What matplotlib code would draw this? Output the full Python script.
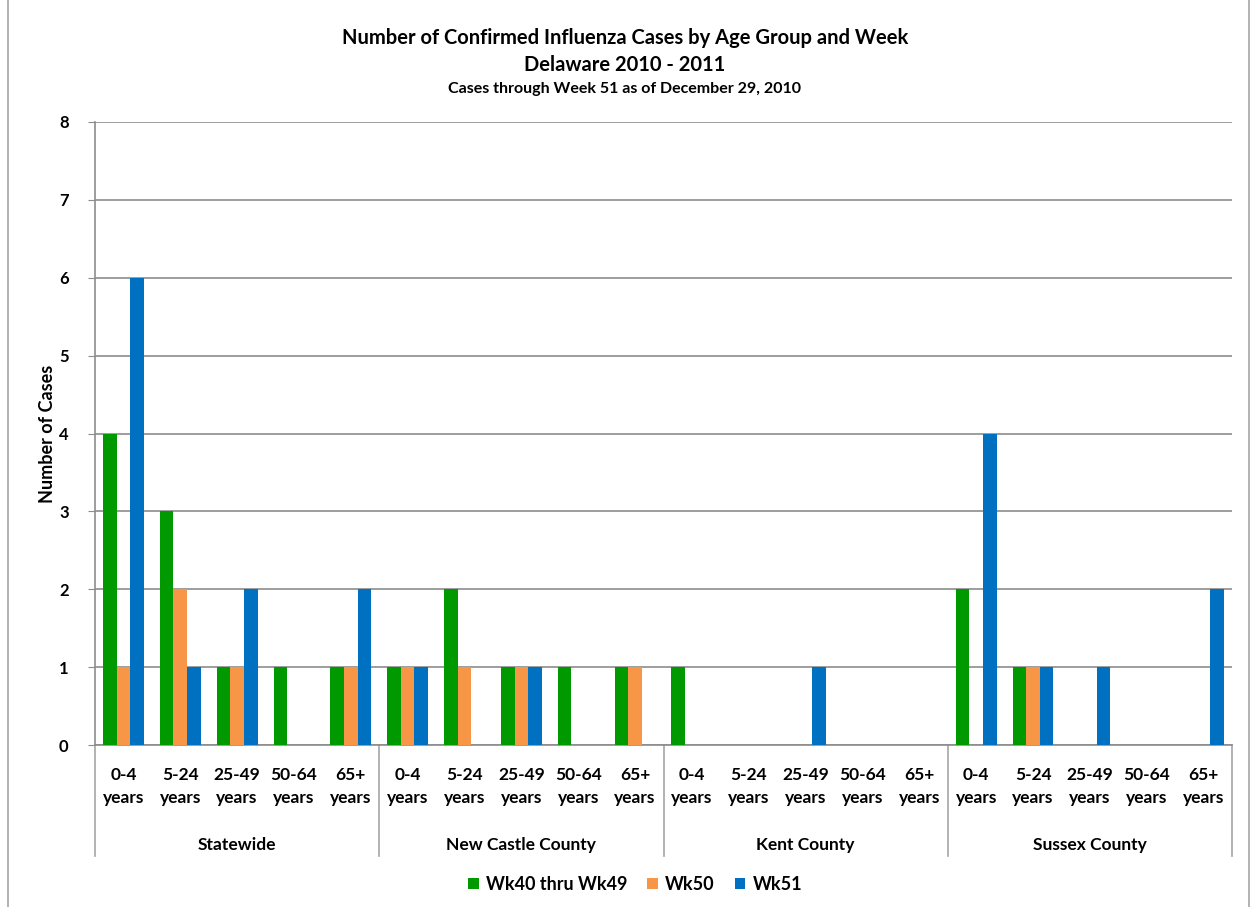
import matplotlib
matplotlib.use('Agg')
import matplotlib.pyplot as plt
import numpy as np

plt.rcParams['font.family'] = ['Lato', 'DejaVu Sans']
plt.rcParams['font.weight'] = 'bold'

regions = ['Statewide', 'New Castle County', 'Kent County', 'Sussex County']
ages = ['0-4\nyears', '5-24\nyears', '25-49\nyears', '50-64\nyears', '65+\nyears']
series = ['Wk40 thru Wk49', 'Wk50', 'Wk51']
colors = ['#009900', '#F79646', '#0070C0']

# values per region, ordered by age group
wk40_49 = [4, 3, 1, 1, 1,   1, 2, 1, 1, 1,   1, 0, 0, 0, 0,   2, 1, 0, 0, 0]
wk50    = [1, 2, 1, 0, 1,   1, 1, 1, 0, 1,   0, 0, 0, 0, 0,   0, 1, 0, 0, 0]
wk51    = [6, 1, 2, 0, 2,   1, 0, 1, 0, 0,   0, 0, 1, 0, 0,   4, 1, 1, 0, 2]

fig = plt.figure(figsize=(12.5, 9.07), dpi=100)
ax = fig.add_axes([0.076, 0.1786, 0.9096, 0.6869])

n = len(wk40_49)
x = np.arange(n)
w = 0.24
for i, (vals, c, lab) in enumerate(zip([wk40_49, wk50, wk51], colors, series)):
    ax.bar(x + (i - 1) * w, vals, width=w, color=c, label=lab, zorder=3)

ax.set_xlim(-0.5, n - 0.5)
ax.set_ylim(0, 8)
ax.set_yticks(range(0, 9))
ax.yaxis.grid(True, color='#8c8c8c', linewidth=1.2, zorder=0)
ax.tick_params(axis='y', length=5, color='#8c8c8c', labelsize=12, pad=14)
ax.tick_params(axis='x', length=0)
ax.set_xticks([])
for s in ['top', 'right']:
    ax.spines[s].set_visible(False)
ax.spines['left'].set_color('#8c8c8c')
ax.spines['bottom'].set_color('#8c8c8c')
ax.spines['left'].set_linewidth(1.2)
ax.spines['bottom'].set_linewidth(1.2)
ax.set_ylabel('Number of Cases', fontsize=13, fontweight='bold', labelpad=2)

trans = ax.get_xaxis_transform()
for j in range(n):
    ax.text(x[j], -0.035, ages[j % 5], transform=trans, ha='center', va='top',
            fontsize=12.5, fontweight='bold', linespacing=1.55)
for k, r in enumerate(regions):
    ax.text(k * 5 + 2, -0.148, r, transform=trans, ha='center', va='top',
            fontsize=12.5, fontweight='bold')
for k in range(5):
    ax.plot([k * 5 - 0.5] * 2, [0, -0.178], transform=trans, color='#a6a6a6',
            linewidth=1.2, clip_on=False)

fig.text(0.5, 0.958, 'Number of Confirmed Influenza Cases by Age Group and Week',
         ha='center', va='center', fontsize=14.5, fontweight='bold')
fig.text(0.5, 0.928, 'Delaware 2010 - 2011', ha='center', va='center',
         fontsize=14.5, fontweight='bold')
fig.text(0.5, 0.902, 'Cases through Week 51 as of December 29, 2010', ha='center',
         va='center', fontsize=11.5, fontweight='bold')

fig.legend(loc='center', bbox_to_anchor=(0.508, 0.025), ncol=3, frameon=False,
           fontsize=13, handlelength=0.6, handleheight=0.6, columnspacing=1.1,
           handletextpad=0.4)

fig.patches.append(plt.Rectangle((0.006, -0.01), 0.993, 1.02, transform=fig.transFigure,
                                 fill=False, edgecolor='#a6a6a6', linewidth=1.2))

plt.savefig('out.png', dpi=100)
